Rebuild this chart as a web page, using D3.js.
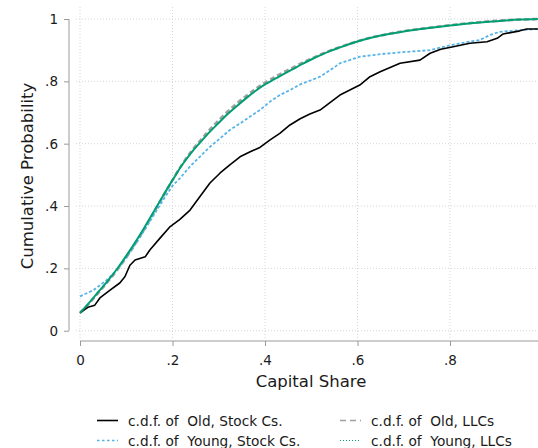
<!DOCTYPE html>
<html><head><meta charset="utf-8">
<script src="https://cdn.jsdelivr.net/npm/d3@7"></script>
<style>
html,body{margin:0;padding:0;background:#fff;}
text{font-family:"DejaVu Sans",Verdana,sans-serif;fill:#1a1a1a;}
</style></head>
<body><svg id="c" width="538" height="448"></svg>
<script>
// ---- data ----
const xTicks = [0, 0.2, 0.4, 0.6, 0.8];
const xTickLabels = ["0", ".2", ".4", ".6", ".8"];
const yTicks = [0, 0.2, 0.4, 0.6, 0.8, 1];
const yTickLabels = ["0", ".2", ".4", ".6", ".8", "1"];
const seriesNames = ["c.d.f. of  Old, Stock Cs.", "c.d.f. of  Young, Stock Cs.", "c.d.f. of  Old, LLCs", "c.d.f. of  Young, LLCs"];

const oldStock = [[0,0.057],[0.017,0.075],[0.032,0.082],[0.043,0.105],[0.065,0.13],[0.086,0.153],[0.097,0.173],[0.108,0.21],[0.119,0.227],[0.141,0.237],[0.151,0.259],[0.173,0.297],[0.195,0.334],[0.216,0.357],[0.238,0.387],[0.259,0.43],[0.281,0.474],[0.303,0.506],[0.324,0.532],[0.346,0.558],[0.368,0.574],[0.389,0.588],[0.411,0.612],[0.432,0.633],[0.454,0.66],[0.476,0.68],[0.497,0.695],[0.519,0.708],[0.562,0.756],[0.605,0.788],[0.627,0.815],[0.649,0.831],[0.692,0.858],[0.735,0.868],[0.757,0.89],[0.78,0.903],[0.807,0.911],[0.843,0.922],[0.88,0.927],[0.902,0.938],[0.915,0.952],[0.951,0.962],[0.966,0.968],[0.99,0.968]];
const youngStock = [[0,0.11],[0.029,0.13],[0.058,0.163],[0.079,0.193],[0.1,0.235],[0.12,0.278],[0.14,0.324],[0.16,0.372],[0.18,0.42],[0.2,0.465],[0.216,0.489],[0.238,0.527],[0.259,0.558],[0.281,0.59],[0.303,0.617],[0.324,0.644],[0.346,0.665],[0.368,0.687],[0.389,0.708],[0.411,0.735],[0.432,0.756],[0.454,0.772],[0.476,0.79],[0.497,0.802],[0.519,0.815],[0.541,0.836],[0.562,0.858],[0.605,0.879],[0.649,0.887],[0.692,0.893],[0.757,0.9],[0.78,0.909],[0.822,0.922],[0.865,0.933],[0.887,0.949],[0.908,0.959],[0.951,0.964],[0.99,0.968]];
const oldLLC = [[0,0.057],[0.02,0.088],[0.04,0.122],[0.06,0.157],[0.08,0.194],[0.1,0.235],[0.12,0.28],[0.14,0.328],[0.16,0.38],[0.18,0.432],[0.2,0.483],[0.22,0.532],[0.24,0.574],[0.26,0.61],[0.28,0.644],[0.3,0.675],[0.32,0.704],[0.34,0.73],[0.36,0.754],[0.38,0.776],[0.4,0.796],[0.42,0.813],[0.44,0.829],[0.46,0.844],[0.48,0.859],[0.5,0.873],[0.52,0.886],[0.54,0.898],[0.56,0.909],[0.58,0.919],[0.6,0.929],[0.65,0.947],[0.7,0.961],[0.75,0.971],[0.8,0.98],[0.85,0.988],[0.9,0.994],[0.95,0.998],[0.99,1.0]];
const youngLLC = [[0,0.057],[0.02,0.09],[0.04,0.125],[0.06,0.16],[0.08,0.198],[0.1,0.24],[0.12,0.285],[0.14,0.333],[0.16,0.383],[0.18,0.434],[0.2,0.483],[0.22,0.53],[0.24,0.57],[0.26,0.604],[0.28,0.637],[0.3,0.667],[0.32,0.696],[0.34,0.722],[0.36,0.747],[0.38,0.77],[0.4,0.79],[0.42,0.807],[0.44,0.823],[0.46,0.839],[0.48,0.855],[0.5,0.87],[0.52,0.884],[0.54,0.897],[0.56,0.908],[0.58,0.918],[0.6,0.928],[0.65,0.947],[0.7,0.96],[0.75,0.97],[0.8,0.979],[0.85,0.987],[0.9,0.993],[0.95,0.998],[0.99,1.0]];

// ---- drawing ----
const svg = d3.select("#c");
const x = d3.scaleLinear().domain([0, 1]).range([80, 542.5]);
const y = d3.scaleLinear().domain([0, 1]).range([330.7, 19]);
const gridCol = "#d6d6d6", axisCol = "#9a9a9a";

// grid
svg.append("g").selectAll("line").data(yTicks).join("line")
  .attr("x1", 76).attr("x2", 538).attr("y1", d => y(d)).attr("y2", d => y(d))
  .attr("stroke", gridCol).attr("stroke-width", 1).attr("stroke-dasharray", "1,2");
svg.append("g").selectAll("line").data(xTicks).join("line")
  .attr("y1", 7).attr("y2", 338).attr("x1", d => x(d)).attr("x2", d => x(d))
  .attr("stroke", gridCol).attr("stroke-width", 1).attr("stroke-dasharray", "1,2");

// axes
const yAxis = d3.axisLeft(y).tickValues(yTicks).tickFormat((d, i) => yTickLabels[i]).tickSize(5).tickPadding(6);
const gy = svg.append("g").attr("transform", "translate(69,0)").call(yAxis);
const xAxis = d3.axisBottom(x).tickValues(xTicks).tickFormat((d, i) => xTickLabels[i]).tickSize(5).tickPadding(9);
const gx = svg.append("g").attr("transform", "translate(0,341)").call(xAxis);
[gx, gy].forEach(g => {
  g.select(".domain").remove();
  g.selectAll(".tick line").attr("stroke", axisCol);
  g.selectAll(".tick text").attr("font-size", "13.5px").attr("fill", "#1a1a1a")
    .attr("font-family", '"DejaVu Sans",Verdana,sans-serif');
});
svg.append("line").attr("x1", 69).attr("x2", 69).attr("y1", y(1)).attr("y2", y(0)).attr("stroke", axisCol);
svg.append("line").attr("x1", x(0)).attr("x2", 538).attr("y1", 341).attr("y2", 341).attr("stroke", axisCol);

// axis titles
svg.append("text").attr("x", 311).attr("y", 387).attr("text-anchor", "middle")
  .attr("font-size", "16.5px").text("Capital Share");
svg.append("text").attr("transform", "translate(33,176) rotate(-90)").attr("text-anchor", "middle")
  .attr("font-size", "16.5px").text("Cumulative Probability");

// lines
const line = d3.line().x(d => x(d[0])).y(d => y(d[1])).curve(d3.curveMonotoneX);
const lineRaw = d3.line().x(d => x(d[0])).y(d => y(d[1]));
const styles = [
  {data: oldStock, color: "#000000", w: 1.6, dash: null, legDash: null, gen: lineRaw},
  {data: youngStock, color: "#56b4e9", w: 1.8, dash: "3,2", legDash: "2.5,2.5", gen: lineRaw},
  {data: oldLLC, color: "#a0a0a0", w: 2.6, dash: "5,3", legDash: "6,4", gen: line},
  {data: youngLLC, color: "#009e73", w: 2.0, dash: null, legDash: "1,2", gen: line}
];
const plotOrder = [2, 1, 0, 3];
plotOrder.forEach(i => {
  const s = styles[i];
  svg.append("path").datum(s.data).attr("d", s.gen).attr("fill", "none")
    .attr("stroke", s.color).attr("stroke-width", s.w)
    .attr("stroke-dasharray", s.dash).attr("stroke-linejoin", "round");
});

// legend
const legPos = [[97, 420.5], [97, 440.5], [340, 420.5], [340, 440.5]];
seriesNames.forEach((name, i) => {
  const [lx, ly] = legPos[i];
  const s = styles[i];
  svg.append("line").attr("x1", lx).attr("x2", lx + 21).attr("y1", ly).attr("y2", ly)
    .attr("stroke", s.color).attr("stroke-width", i === 3 ? 1.2 : 1.6).attr("stroke-dasharray", s.legDash);
  svg.append("text").attr("x", lx + 31).attr("y", ly + 5).attr("font-size", "13.7px")
    .style("white-space", "pre").text(name);
});
</script></body></html>
